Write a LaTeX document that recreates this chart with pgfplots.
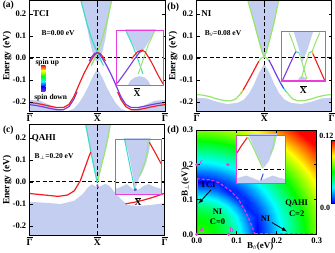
\documentclass[border=0pt]{standalone}
\usepackage{pgfplots}
\pgfplotsset{compat=1.18}
\usepackage{fontspec}
\setmainfont{Liberation Serif}
\definecolor{bulk}{RGB}{196,206,240}
\definecolor{sred}{RGB}{240,30,30}
\definecolor{spurple}{RGB}{120,60,230}
\definecolor{scyan}{RGB}{60,220,200}
\definecolor{sgreen}{RGB}{150,230,110}
\definecolor{smag}{RGB}{235,60,220}
\definecolor{sblue}{RGB}{40,80,240}
\definecolor{sorange}{RGB}{250,170,30}
\newcommand{\ob}[1]{$\overline{\hbox{#1}}$}
\pgfplotsset{
 band/.style={scale only axis, anchor=south west, width=135pt, height=111pt,
  xmin=-1,xmax=1,ymin=-0.245,ymax=0.26, axis on top,
  xtick={-1,0,1}, xticklabels={\ob{Γ},\ob{X},\ob{Γ}},
  ytick={-0.2,-0.1,0,0.1,0.2}, yticklabels={-0.2,-0.1,0.0,0.1,0.2},
  axis line style={line width=0.8pt}, major tick length=3pt,
  tick style={line width=0.6pt,black},
  yticklabel style={font=\fontsize{8.5}{9}\selectfont},
  xticklabel style={font=\fontsize{9.5}{10}\selectfont, inner sep=1pt},
  ylabel={Energy (eV)},
  ylabel style={at={(axis description cs:-0.167,0.5)}, anchor=center, font=\fontsize{9.5}{10}\selectfont}},
 inset/.style={scale only axis, anchor=south west, xmin=0,xmax=1,ymin=0,ymax=1,
  ticks=none, axis line style={smag,line width=0.9pt},
  axis background/.style={fill=white}, axis on top},
 hd/.style={black, line width=1.1pt, dash pattern=on 4pt off 2.5pt},
 sl/.style={line width=1.2pt},
}
\begin{document}
\bfseries
\begin{tikzpicture}
\useasboundingbox (0,0) rectangle (335pt,253pt);
% ---------------- (a)
\begin{axis}[band, at={(29.7pt,141.3pt)}, width=135.3pt]
\addplot[fill=bulk,draw=none] coordinates {(-0.24,0.27) (-0.17,0.17) (-0.12,0.09) (-0.08,0.035) (-0.04,-0.005) (0,-0.022) (0.04,-0.005) (0.08,0.035) (0.12,0.09) (0.16,0.17) (0.21,0.27)} -- cycle;
\addplot[fill=bulk,draw=none] coordinates {(-1.05,-0.3) (-1.05,-0.19) (-0.85,-0.195) (-0.7,-0.215) (-0.55,-0.238) (-0.45,-0.243) (-0.35,-0.232) (-0.27,-0.205) (-0.2,-0.17) (-0.14,-0.135) (-0.09,-0.1) (-0.04,-0.07) (0,-0.05) (0.04,-0.07) (0.09,-0.1) (0.14,-0.135) (0.2,-0.17) (0.27,-0.205) (0.35,-0.232) (0.45,-0.243) (0.55,-0.238) (0.7,-0.215) (0.85,-0.195) (1.05,-0.19) (1.05,-0.3)} -- cycle;
\addplot[hd] coordinates {(0,-0.3) (0,0.3)};
\addplot[hd] coordinates {(-1,0) (1,0)};
\addplot[sl,scyan] coordinates {(-0.25,0.27) (-0.15,0.15) (-0.07,0.075) (0,0.025) (0.05,-0.01) (0.09,-0.035)};
\addplot[sl,sgreen] coordinates {(0.22,0.27) (0.13,0.15) (0.06,0.075) (0,0.025) (-0.05,-0.01) (-0.09,-0.035)};
\addplot[sl,sred] coordinates {(0.3,-0.155) (0.35,-0.19) (0.42,-0.222) (0.5,-0.236) (0.6,-0.236) (0.7,-0.23) (0.8,-0.223) (0.9,-0.217) (1,-0.213)};
\addplot[sl,spurple] coordinates {(-0.3,-0.155) (-0.35,-0.19) (-0.42,-0.222) (-0.5,-0.236) (-0.6,-0.236) (-0.7,-0.23) (-0.8,-0.223) (-0.9,-0.217) (-1,-0.213)};
\addplot[sl,sred] coordinates {(-1,-0.203) (-0.9,-0.207) (-0.8,-0.213) (-0.7,-0.22) (-0.6,-0.226) (-0.5,-0.226) (-0.42,-0.212) (-0.35,-0.178) (-0.3,-0.143) (-0.25,-0.107) (-0.2,-0.073) (-0.14,-0.037) (-0.08,-0.005) (-0.04,0.014) (0,0.024) (0.04,0.02) (0.08,0.006) (0.12,-0.015)};
\addplot[sl,spurple] coordinates {(1,-0.203) (0.9,-0.207) (0.8,-0.213) (0.7,-0.22) (0.6,-0.226) (0.5,-0.226) (0.42,-0.212) (0.35,-0.178) (0.3,-0.143) (0.25,-0.107) (0.2,-0.073) (0.14,-0.037) (0.08,-0.005) (0.04,0.014) (0,0.024) (-0.04,0.02) (-0.08,0.006) (-0.12,-0.015)};
\shade[top color=sred, bottom color=yellow] (axis cs:-0.83,-0.059) rectangle (axis cs:-0.77,-0.035);
\shade[top color=yellow, bottom color=green] (axis cs:-0.83,-0.083) rectangle (axis cs:-0.77,-0.059);
\shade[top color=green, bottom color=cyan] (axis cs:-0.83,-0.107) rectangle (axis cs:-0.77,-0.083);
\shade[top color=cyan, bottom color=blue] (axis cs:-0.83,-0.131) rectangle (axis cs:-0.77,-0.107);
\shade[top color=blue, bottom color=spurple] (axis cs:-0.83,-0.155) rectangle (axis cs:-0.77,-0.131);
\node[font=\fontsize{9}{9}\selectfont] at (axis cs:-0.83,0.2) {TCI};
\node[font=\fontsize{7.5}{8}\selectfont] at (axis cs:-0.58,0.113) {B=0.00 eV};
\node[font=\fontsize{7.5}{8}\selectfont] at (axis cs:-0.74,-0.02) {spin up};
\node[font=\fontsize{7.5}{8}\selectfont] at (axis cs:-0.69,-0.18) {spin down};
\end{axis}
% ---------------- (b)
\begin{axis}[band, at={(196.7pt,141.3pt)}, ylabel style={at={(axis description cs:-0.175,0.5)}}]
\addplot[fill=bulk,draw=none] coordinates {(-0.235,0.27) (-0.15,0.155) (-0.08,0.075) (-0.03,0.022) (0,0.002) (0.03,0.022) (0.08,0.075) (0.15,0.16) (0.21,0.27)} -- cycle;
\addplot[fill=bulk,draw=none] coordinates {(-1.05,-0.3) (-1.05,-0.18) (-0.85,-0.185) (-0.7,-0.2) (-0.55,-0.21) (-0.4,-0.205) (-0.3,-0.19) (-0.22,-0.16) (-0.15,-0.12) (-0.08,-0.07) (0,-0.027) (0.08,-0.07) (0.15,-0.12) (0.22,-0.16) (0.3,-0.19) (0.4,-0.205) (0.55,-0.21) (0.7,-0.2) (0.85,-0.185) (1.05,-0.18) (1.05,-0.3)} -- cycle;
\addplot[hd] coordinates {(0,-0.3) (0,0.3)};
\addplot[hd] coordinates {(-1,0) (1,0)};
\addplot[sl,sgreen] coordinates {(-0.25,0.27) (-0.15,0.16) (-0.08,0.08) (-0.03,0.025) (0,0.003)};
\addplot[sl,sgreen] coordinates {(0.22,0.27) (0.15,0.165) (0.08,0.08) (0.03,0.025) (0,0.003)};
\addplot[sl,sgreen] coordinates {(-1,-0.167) (-0.9,-0.17) (-0.8,-0.177) (-0.7,-0.187) (-0.6,-0.194) (-0.5,-0.196) (-0.42,-0.187) (-0.37,-0.17) (-0.33,-0.155)};
\addplot[sl,sorange] coordinates {(-0.345,-0.162) (-0.3,-0.14)};
\addplot[sl,sred] coordinates {(-0.31,-0.145) (-0.26,-0.118) (-0.2,-0.085) (-0.14,-0.05) (-0.08,-0.015)};
\addplot[sl,sgreen] coordinates {(-0.08,-0.015) (-0.04,0) (0,0.004) (0.04,0) (0.08,-0.015)};
\addplot[sl,spurple] coordinates {(0.07,-0.01) (0.12,-0.04) (0.18,-0.078) (0.24,-0.113)};
\addplot[sl,sblue] coordinates {(0.24,-0.113) (0.29,-0.14)};
\addplot[sl,scyan] coordinates {(0.29,-0.14) (0.335,-0.158)};
\addplot[sl,sgreen] coordinates {(0.33,-0.155) (0.37,-0.17) (0.42,-0.187) (0.5,-0.196) (0.6,-0.194) (0.7,-0.187) (0.8,-0.177) (0.9,-0.17) (1,-0.167)};
\node[font=\fontsize{9}{9}\selectfont] at (axis cs:-0.855,0.2) {NI};
\node[font=\fontsize{7.5}{8}\selectfont] at (axis cs:-0.61,0.109) {B\textsubscript{//}=0.08 eV};
\end{axis}
% ---------------- (c)
\begin{axis}[band, at={(29.7pt,17.3pt)}]
\addplot[fill=bulk,draw=none] coordinates {(-0.175,0.27) (-0.09,0.13) (-0.04,0.055) (0,-0.005) (0.03,0.035) (0.07,0.085) (0.11,0.13) (0.16,0.2) (0.2,0.27)} -- cycle;
\addplot[fill=bulk,draw=none] coordinates {(-1.05,-0.3) (-1.05,-0.09) (-0.73,-0.096) (-0.54,-0.101) (-0.34,-0.086) (-0.215,-0.056) (-0.14,-0.026) (-0.08,-0.011) (-0.04,-0.018) (0.01,-0.026) (0.06,-0.018) (0.12,-0.009) (0.18,-0.018) (0.26,-0.048) (0.36,-0.081) (0.45,-0.105) (0.6,-0.11) (0.8,-0.105) (1.05,-0.095) (1.05,-0.3)} -- cycle;
\addplot[hd] coordinates {(0,-0.3) (0,0.3)};
\addplot[hd] coordinates {(-1,0) (1,0)};
\addplot[sl,scyan] coordinates {(-0.175,0.27) (-0.09,0.13) (-0.04,0.055) (0,-0.003)};
\addplot[sl,sgreen] coordinates {(0.2,0.27) (0.16,0.2) (0.11,0.13) (0.07,0.083) (0.03,0.033) (0.005,0.0)};
\addplot[line width=1.6pt,spurple] coordinates {(0,-0.012) (0.012,-0.028)};
\addplot[sl,sred] coordinates {(-1,-0.053) (-0.78,-0.06) (-0.58,-0.066) (-0.44,-0.06) (-0.34,-0.041) (-0.25,0.005) (-0.19,0.057) (-0.12,0.117) (-0.095,0.135)};
\addplot[sl,sred] coordinates {(0.42,-0.1) (0.55,-0.093) (0.7,-0.082) (0.85,-0.068) (1,-0.052)};
\node[font=\fontsize{9}{9}\selectfont] at (axis cs:-0.79,0.2) {QAHI};
\node[font=\fontsize{7.5}{8}\selectfont] at (axis cs:-0.64,0.117) {B$_{\perp}$=0.20 eV};
\end{axis}
% ---------------- (d)
\begin{axis}[at={(196.7pt,18.7pt)}, anchor=south west, scale only axis, width=120pt, height=104.3pt,
  view={0}{90}, xmin=0,xmax=0.3,ymin=0,ymax=0.3, axis on top, clip=false,
  colormap={gapmap}{rgb255(0cm)=(0,0,255); rgb255(1cm)=(0,255,255); rgb255(2cm)=(0,255,0); rgb255(3cm)=(255,255,0); rgb255(4cm)=(255,0,0)},
  point meta min=0, point meta max=0.12,
  colorbar, colorbar style={at={(parent axis.north east)}, anchor=north west, xshift=6pt, yshift=-10pt, scale only axis, width=6.6pt, height=63pt, ytick=\empty, xtick=\empty, axis line style={line width=0.3pt}},
  xtick={0,0.1,0.2,0.3}, xticklabels={0.0,0.1,0.2,0.3},
  ytick={0,0.1,0.2,0.3}, yticklabels={0.0,0.1,0.2,0.3},
  axis line style={line width=0.8pt}, major tick length=3pt, tick style={line width=0.6pt,black},
  ticklabel style={font=\fontsize{8.5}{9}\selectfont},
  xlabel={B\textsubscript{//}(eV)}, ylabel={B$_{\perp}$(eV)},
  xlabel style={at={(axis description cs:0.53,-0.119)}, anchor=center, font=\fontsize{9}{10}\selectfont},
  ylabel style={at={(axis description cs:-0.093,0.5)}, anchor=center, font=\fontsize{9}{10}\selectfont}]
\addplot3[surf, shader=interp, mesh/cols=13] table {
x y c
0 0 .065
0.025 0 .063
0.05 0 .058
0.075 0 .049
0.1 0 .036
0.125 0 .020
0.15 0 .000
0.175 0 .0125
0.2 0 .025
0.225 0 .0375
0.25 0 .050
0.275 0 .0625
0.3 0 .075

0 0.025 .063
0.025 0.025 .061
0.05 0.025 .056
0.075 0.025 .047
0.1 0.025 .034
0.125 0.025 .018
0.15 0.025 .001
0.175 0.025 .0134
0.2 0.025 .0258
0.225 0.025 .0382
0.25 0.025 .0506
0.275 0.025 .0631
0.3 0.025 .0755

0 0.05 .058
0.025 0.05 .056
0.05 0.05 .051
0.075 0.05 .042
0.1 0.05 .029
0.125 0.05 .013
0.15 0.05 .0041
0.175 0.05 .016
0.2 0.05 .0281
0.225 0.05 .0402
0.25 0.05 .0525
0.275 0.05 .0648
0.3 0.05 .0771

0 0.075 .049
0.025 0.075 .047
0.05 0.075 .042
0.075 0.075 .0325
0.1 0.075 .020
0.125 0.075 .0036
0.15 0.075 .0089
0.175 0.075 .0202
0.2 0.075 .0318
0.225 0.075 .0436
0.25 0.075 .0555
0.275 0.075 .0675
0.3 0.075 .0796

0 0.1 .036
0.025 0.1 .034
0.05 0.1 .029
0.075 0.1 .020
0.1 0.1 .0072
0.125 0.1 .005
0.15 0.1 .0151
0.175 0.1 .0258
0.2 0.1 .0368
0.225 0.1 .0481
0.25 0.1 .0596
0.275 0.1 .0713
0.3 0.1 .0831

0 0.125 .020
0.025 0.125 .018
0.05 0.125 .013
0.075 0.125 .0036
0.1 0.125 .005
0.125 0.125 .0134
0.15 0.125 .0226
0.175 0.125 .0325
0.2 0.125 .0429
0.225 0.125 .0537
0.25 0.125 .0648
0.275 0.125 .076
0.3 0.125 .0875

0 0.15 .000
0.025 0.15 .001
0.05 0.15 .0041
0.075 0.15 .0089
0.1 0.15 .0151
0.125 0.15 .0226
0.15 0.15 .0311
0.175 0.15 .0402
0.2 0.15 .05
0.225 0.15 .0602
0.25 0.15 .0708
0.275 0.15 .0816
0.3 0.15 .0927

0 0.175 .0125
0.025 0.175 .0134
0.05 0.175 .016
0.075 0.175 .0202
0.1 0.175 .0258
0.125 0.175 .0325
0.15 0.175 .0402
0.175 0.175 .0487
0.2 0.175 .0579
0.225 0.175 .0675
0.25 0.175 .0776
0.275 0.175 .088
0.3 0.175 .0987

0 0.2 .025
0.025 0.2 .0258
0.05 0.2 .0281
0.075 0.2 .0318
0.1 0.2 .0368
0.125 0.2 .0429
0.15 0.2 .05
0.175 0.2 .0579
0.2 0.2 .0664
0.225 0.2 .0755
0.25 0.2 .0851
0.275 0.2 .095
0.3 0.2 .1053

0 0.225 .0375
0.025 0.225 .0382
0.05 0.225 .0402
0.075 0.225 .0436
0.1 0.225 .0481
0.125 0.225 .0537
0.15 0.225 .0602
0.175 0.225 .0675
0.2 0.225 .0755
0.225 0.225 .0841
0.25 0.225 .0932
0.275 0.225 .1027
0.3 0.225 .1125

0 0.25 .050
0.025 0.25 .0506
0.05 0.25 .0525
0.075 0.25 .0555
0.1 0.25 .0596
0.125 0.25 .0648
0.15 0.25 .0708
0.175 0.25 .0776
0.2 0.25 .0851
0.225 0.25 .0932
0.25 0.25 .1018
0.275 0.25 .1108
0.3 0.25 .1203

0 0.275 .0625
0.025 0.275 .0631
0.05 0.275 .0648
0.075 0.275 .0675
0.1 0.275 .0713
0.125 0.275 .076
0.15 0.275 .0816
0.175 0.275 .088
0.2 0.275 .095
0.225 0.275 .1027
0.25 0.275 .1108
0.275 0.275 .1195
0.3 0.275 .125

0 0.3 .075
0.025 0.3 .0755
0.05 0.3 .0771
0.075 0.3 .0796
0.1 0.3 .0831
0.125 0.3 .0875
0.15 0.3 .0927
0.175 0.3 .0987
0.2 0.3 .1053
0.225 0.3 .1125
0.25 0.3 .1203
0.275 0.3 .125
0.3 0.3 .125
};
\addplot3[smag, line width=1.3pt] coordinates {(0.001,0,0) (0.001,0.16,0)};
\addplot3[smag, line width=1.1pt, dash pattern=on 3pt off 2pt] coordinates {(0,0.16,0) (0.03,0.157,0) (0.055,0.149,0) (0.085,0.125,0) (0.105,0.1,0) (0.12,0.07,0) (0.132,0.04,0) (0.14,0.018,0) (0.145,0,0)};
\addplot3[smag, line width=1.1pt, dash pattern=on 3pt off 2pt] coordinates {(0.145,0.001,0) (0.3,0.001,0)};
\addplot3[only marks, mark=*, mark size=1.4pt, smag] coordinates {(0,0,0) (0.08,0,0) (0,0.2,0) (0.078,0.2,0)};
\node[smag, font=\fontsize{7.5}{8}\selectfont] at (axis cs:0.012,0.014,0) {a};
\node[smag, font=\fontsize{7.5}{8}\selectfont] at (axis cs:0.0875,0.012,0) {b};
\node[smag, font=\fontsize{7.5}{8}\selectfont] at (axis cs:0.012,0.207,0) {c};
\draw[-latex, line width=0.8pt] (axis cs:0.036,0.128,0) -- (axis cs:0.004,0.088,0);
\draw[-latex, line width=0.8pt] (axis cs:0.188,0.034,0) -- (axis cs:0.226,0.008,0);
\node[font=\fontsize{8.5}{9}\selectfont] at (axis cs:0.028,0.142,0) {TCI};
\node[font=\fontsize{8.5}{9}\selectfont] at (axis cs:0.052,0.066,0) {NI};
\node[font=\fontsize{8.5}{9}\selectfont] at (axis cs:0.052,0.037,0) {C=0};
\node[font=\fontsize{8.5}{9}\selectfont] at (axis cs:0.25,0.089,0) {QAHI};
\node[font=\fontsize{8.5}{9}\selectfont] at (axis cs:0.25,0.06,0) {C=2};
\node[font=\fontsize{8.5}{9}\selectfont] at (axis cs:0.172,0.046,0) {NI};
\end{axis}
% ---------------- insets
\begin{axis}[inset, at={(116.3pt,168pt)}, width=46.7pt, height=55pt]
\addplot[fill=bulk,draw=none] coordinates {(0.18,1.02) (0.86,1.02) (0.7,0.8) (0.58,0.63) (0.5,0.56) (0.42,0.63) (0.32,0.8)} -- cycle;
\addplot[fill=bulk,draw=none] coordinates {(0.24,-0.02) (0.3,0.08) (0.4,0.14) (0.5,0.16) (0.6,0.14) (0.68,0.08) (0.74,-0.02)} -- cycle;
\addplot[hd] coordinates {(0,0.504) (1,0.504)};
\addplot[line width=1pt,scyan] coordinates {(0.2,1) (0.35,0.72) (0.47,0.45) (0.57,0.2)};
\addplot[line width=1pt,sgreen] coordinates {(0.83,1) (0.68,0.72) (0.57,0.45) (0.47,0.2)};
\addplot[line width=1.1pt,spurple] coordinates {(0.02,0.03) (0.2,0.24) (0.38,0.46) (0.5,0.6) (0.56,0.62)};
\addplot[line width=1.1pt,sred] coordinates {(0.33,0.48) (0.45,0.6) (0.55,0.635) (0.62,0.6) (0.75,0.42) (0.88,0.2) (1.0,0.02)};
\end{axis}
\begin{axis}[inset, at={(281.7pt,171.3pt)}, width=43.3pt, height=50pt]
\addplot[fill=bulk,draw=none] coordinates {(0.27,1.02) (0.73,1.02) (0.6,0.65) (0.48,0.4) (0.4,0.65)} -- cycle;
\addplot[fill=bulk,draw=none] coordinates {(0.36,-0.02) (0.4,0.08) (0.47,0.11) (0.55,0.08) (0.6,-0.02)} -- cycle;
\addplot[hd] coordinates {(0,0.49) (1,0.49)};
\addplot[line width=1pt,sgreen] coordinates {(0.17,0.98) (0.26,0.78) (0.33,0.6)};
\addplot[line width=1pt,sgreen] coordinates {(0.88,0.98) (0.78,0.78) (0.7,0.6)};
\addplot[line width=1pt,scyan] coordinates {(0.33,0.6) (0.4,0.58)};
\addplot[line width=1pt,scyan] coordinates {(0.63,0.58) (0.7,0.6)};
\addplot[line width=1pt,sgreen] coordinates {(0.4,0.58) (0.5,0.3) (0.58,0.05)};
\addplot[line width=1pt,sgreen] coordinates {(0.63,0.58) (0.53,0.3) (0.45,0.05)};
\addplot[line width=1.1pt,spurple] coordinates {(0.02,0.03) (0.3,0.56)};
\addplot[line width=1.1pt,sblue] coordinates {(0.3,0.56) (0.33,0.6)};
\addplot[line width=1.1pt,sred] coordinates {(0.72,0.56) (0.99,0.03)};
\addplot[line width=1.1pt,sorange] coordinates {(0.7,0.6) (0.72,0.56)};
\addplot[smag, line width=2.5pt] coordinates {(0,0) (1,0)};
\end{axis}
\begin{axis}[inset, at={(115.3pt,58.3pt)}, width=46pt, height=55.7pt]
\addplot[fill=bulk,draw=none] coordinates {(0.18,1.02) (0.77,1.02) (0.74,0.8) (0.68,0.6) (0.6,0.42) (0.52,0.3) (0.43,0.1) (0.36,0.45) (0.27,0.8)} -- cycle;
\addplot[fill=bulk,draw=none] coordinates {(-0.02,-0.02) (-0.02,0.1) (0.1,0.13) (0.25,0.19) (0.35,0.12) (0.43,0.07) (0.52,0.1) (0.62,0.16) (0.72,0.19) (0.85,0.14) (1.02,0.1) (1.02,-0.02)} -- cycle;
\addplot[hd] coordinates {(0,0.22) (1,0.22)};
\addplot[line width=1pt,scyan] coordinates {(0.2,1) (0.31,0.55) (0.42,0.1)};
\addplot[line width=1pt,sgreen] coordinates {(0.72,0.97) (0.69,0.75) (0.63,0.55) (0.55,0.38) (0.52,0.33)};
\addplot[line width=1.1pt,sred] coordinates {(0.74,0.94) (0.85,0.78) (1.0,0.55)};
\addplot[line width=2pt,spurple] coordinates {(0.41,0.08) (0.46,0.1)};
\end{axis}
\begin{axis}[inset, at={(236.7pt,69.7pt)}, width=48.3pt, height=48.3pt]
\addplot[fill=bulk,draw=none] coordinates {(0.24,1.02) (0.84,1.02) (0.78,0.75) (0.66,0.45) (0.56,0.32) (0.48,0.45) (0.36,0.72)} -- cycle;
\addplot[fill=bulk,draw=none] coordinates {(-0.02,-0.02) (-0.02,0.1) (0.2,0.16) (0.35,0.1) (0.48,0.05) (0.6,0.1) (0.75,0.16) (0.9,0.11) (1.02,0.08) (1.02,-0.02)} -- cycle;
\addplot[hd] coordinates {(0.02,0.28) (0.98,0.28)};
\addplot[line width=1.1pt,sred] coordinates {(0.0,0.62) (0.1,0.78) (0.22,0.95)};
\addplot[line width=1pt,sgreen] coordinates {(0.23,0.96) (0.35,0.72) (0.47,0.46) (0.54,0.31)};
\addplot[line width=1pt,sgreen] coordinates {(0.8,0.99) (0.76,0.78) (0.7,0.6)};
\addplot[line width=1pt,sblue] coordinates {(0.5,0.06) (0.55,0.2)};
\end{axis}
% ---------------- free labels
\node[font=\fontsize{9.5}{10}\selectfont] at (137pt,161pt) {\ob{X}};
\node[font=\fontsize{9.5}{10}\selectfont] at (303.3pt,163.7pt) {\ob{X}};
\node[font=\fontsize{9.5}{10}\selectfont] at (138pt,51.7pt) {\ob{X}};
\node[font=\fontsize{9.5}{10}\selectfont] at (8.3pt,248pt) {(a)};
\node[font=\fontsize{9.5}{10}\selectfont] at (173.3pt,246pt) {(b)};
\node[font=\fontsize{9.5}{10}\selectfont] at (8.3pt,123pt) {(c)};
\node[font=\fontsize{9.5}{10}\selectfont] at (173.3pt,123pt) {(d)};
\node[font=\fontsize{8}{9}\selectfont] at (326.3pt,117.5pt) {0.12};
\node[font=\fontsize{8}{9}\selectfont] at (325pt,45.5pt) {0.0};
\end{tikzpicture}
\end{document}
